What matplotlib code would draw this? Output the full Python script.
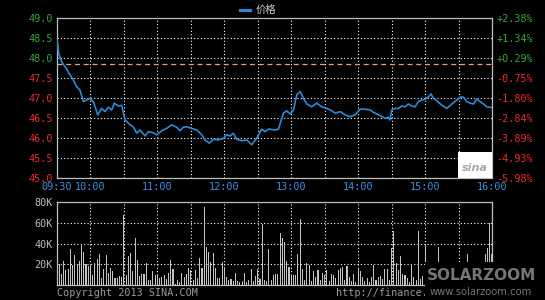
import numpy as np
import matplotlib
matplotlib.use("Agg")
import matplotlib.pyplot as plt
from matplotlib.patches import Rectangle

# price line, minutes after 09:30 and price
price_t = [0, 1.5, 4, 8, 11.7, 14.6, 17.7, 20.6, 23.6, 29.6, 32.6, 36.5, 40, 43, 46, 49,
           51.4, 55, 58, 61, 65.5, 68.4, 71.5, 74.4, 79, 82, 86.4, 89.4, 93.9, 98.3,
           102.8, 107.3, 110.3, 113.3, 116.3, 120.8, 125.3, 129.8, 132.7, 136.6, 140.2,
           144.7, 149.2, 152.2, 155.2, 158.1, 161.1, 165.6, 170.1, 174.6, 179, 183.5,
           186.5, 189.5, 191, 195.5, 198.5, 203, 206, 209, 212, 215, 218, 221, 224,
           228.4, 232.9, 237.4, 241.9, 246.4, 249.3, 253.8, 258.3, 262.8, 267.3, 271.7,
           276.2, 280.7, 283.7, 288.2, 294.2, 297.1, 298.6, 300.1, 303.1, 306.1, 309,
           312, 315, 318, 321, 324, 327, 330, 333, 335.4, 337.5, 340.5, 345, 349.5, 354,
           358.5, 362, 364.4, 367.4, 370.4, 373.4, 376.4, 379.4, 382.3, 385.3, 388.3, 390]
price_v = [48.45, 48.12, 47.91, 47.75, 47.58, 47.45, 47.28, 47.20, 46.91, 46.99, 46.91,
           46.58, 46.74, 46.66, 46.77, 46.70, 46.87, 46.80, 46.82, 46.45, 46.33, 46.28,
           46.12, 46.20, 46.05, 46.16, 46.13, 46.08, 46.18, 46.24, 46.33, 46.27, 46.18,
           46.27, 46.28, 46.24, 46.20, 46.08, 45.95, 45.87, 45.97, 45.95, 45.99, 46.08,
           46.05, 46.12, 45.97, 45.93, 45.95, 45.83, 45.99, 46.22, 46.16, 46.22, 46.22,
           46.20, 46.22, 46.62, 46.68, 46.60, 46.70, 47.08, 47.16, 46.99, 46.85, 46.78,
           46.87, 46.78, 46.74, 46.68, 46.62, 46.66, 46.58, 46.53, 46.58, 46.72, 46.72,
           46.70, 46.64, 46.58, 46.49, 46.52, 46.45, 46.70, 46.74, 46.74, 46.80, 46.78,
           46.85, 46.80, 46.78, 46.91, 46.95, 46.97, 47.03, 47.10, 46.99, 46.93, 46.82,
           46.74, 46.85, 46.95, 47.03, 47.02, 46.91, 46.87, 46.85, 46.97, 46.91, 46.85,
           46.78, 46.77, 46.76]
prev_close = 47.86

# volume in thousands, one bar every 2 minutes
volume_k = [29.6, 20, 11, 23, 14.5, 15.4, 34.7, 19.3, 29, 20, 23, 40, 31.5, 20, 18.6,
            18.6, 10, 21, 25, 29.6, 6.4, 15.4, 29, 12, 16.7, 13.5, 7, 7, 9, 8,
            67.5, 9.6, 28, 30.5, 13.5, 45.7, 24, 9, 11, 11, 21, 4.8, 4.8, 13.5, 9.6,
            10, 6.4, 8, 9.6, 5.8, 12, 24, 15.4, 0.6, 4.8, 2.6, 12, 8, 11, 16.7,
            14.5, 4.8, 14.5, 7, 26.4, 16, 75.5, 37, 32, 22.5, 30.5, 16.7, 7, 6.4, 22.5,
            17.7, 8, 4.8, 5.8, 3.9, 12, 3.9, 2.6, 3.9, 12, 2.6, 4.8, 15.4, 3.9, 9,
            15.4, 5.8, 58.5, 4.8, 3.9, 34.7, 4.8, 10,
            11, 11, 50, 45.7, 41.8, 23, 17.7, 9.6, 10, 9.6, 29.6, 63.7, 15.4, 4.8, 21,
            19.3, 3.9, 13.5, 8, 14.5, 4.8, 12, 10, 14.5, 3.9, 11, 9.6, 6.4, 14.5, 16.7,
            17.7, 4.8, 18.6, 8, 3.9, 11, 2.6, 16.7, 13.5, 8, 3.9, 6.4, 2.6, 8, 19.3,
            4.8, 8, 9, 5.8, 15.4, 15.4, 4.8, 35.4, 52, 21, 14.5, 28, 11, 10, 7,
            2.6, 20, 8, 4.8, 52,
            6, 9, 38.6, 10, 8, 12, 7, 9, 37, 6, 22.5, 8, 5, 10, 7, 12, 6, 9, 11, 7,
            8, 29.6, 10, 22.5, 9, 20, 21, 18.6, 12, 29.6, 35.4, 59.5, 30]

time_ticks = [0, 30, 90, 150, 210, 270, 330, 390]
time_labels = ["09:30", "10:00", "11:00", "12:00", "13:00", "14:00", "15:00", "16:00"]
price_ticks = [45.0, 45.5, 46.0, 46.5, 47.0, 47.5, 48.0, 48.5, 49.0]
vol_ticks = [20, 40, 60, 80]

GREEN = "#3aa53a"
RED = "#ee2a2a"
BLUE = "#3b8fe0"
GRAY = "#bdbdbd"
MONO = "DejaVu Sans Mono"

fig = plt.figure(figsize=(5.45, 3.0), dpi=100, facecolor="black")

def style_axes(ax):
    ax.set_facecolor("black")
    for s in ax.spines.values():
        s.set_color(GRAY)
        s.set_linewidth(0.9)
    ax.tick_params(length=0)
    ax.set_xlim(0, 390)
    ax.set_xticks(np.arange(0, 391, 30), minor=False)
    ax.grid(True, color="white", linestyle=(0, (1, 2)), linewidth=0.8)

# ===== price panel =====
ax = fig.add_axes([57 / 545, 1 - 178 / 300, 435 / 545, 160 / 300])
style_axes(ax)
ax.set_ylim(45, 49)
ax.set_yticks(price_ticks)
ax.set_yticklabels([f"{p:.1f}" for p in price_ticks], family=MONO, fontsize=7.3)
for lab, p in zip(ax.get_yticklabels(), price_ticks):
    lab.set_color(GREEN if p >= prev_close else RED)
ax.tick_params(axis="y", pad=3)
ax.set_xticks(time_ticks)
ax.set_xticks(np.arange(0, 391, 30), minor=True)
ax.set_xticklabels(time_labels, family=MONO, fontsize=7.3, color=BLUE)
ax.tick_params(axis="x", pad=3)
ax.grid(True, which="minor", axis="x", color="white", linestyle=(0, (1, 2)), linewidth=0.8)
ax.tick_params(which="minor", length=0)

ax.axhline(prev_close, color="#e8a07c", linestyle=(0, (4, 3)), linewidth=0.9, zorder=2)
ax.plot(price_t, price_v, color="#2b8ad6", linewidth=1.2, zorder=3)

ax2 = ax.twinx()
ax2.set_ylim(45, 49)
ax2.set_yticks(price_ticks)
ax2.set_yticklabels([f"{(p / prev_close - 1) * 100:+.2f}%" for p in price_ticks],
                    family=MONO, fontsize=7.3)
for lab, p in zip(ax2.get_yticklabels(), price_ticks):
    lab.set_color(GREEN if p >= prev_close else RED)
ax2.tick_params(length=0, pad=3)
for s in ax2.spines.values():
    s.set_visible(False)

# sina logo box
ax.add_patch(Rectangle((0.922, 0.0), 0.078, 0.16, transform=ax.transAxes,
                       facecolor="white", edgecolor="none", zorder=4))
ax.text(0.961, 0.06, "sina", transform=ax.transAxes, ha="center", va="center",
        fontsize=8, style="italic", fontweight="bold", color="#a8a8a8", zorder=5)

# legend
fig.add_artist(plt.Line2D([240 / 545, 250 / 545], [1 - 10 / 300] * 2,
                          color="#2b8ad6", linewidth=2.2, transform=fig.transFigure))
fig.text(256 / 545, 1 - 10 / 300, "价格", family=["Noto Sans CJK SC", "DejaVu Sans"],
         fontsize=7.5, color="#d0d0d0", va="center", ha="left")

# ===== volume panel =====
axv = fig.add_axes([57 / 545, 1 - 285 / 300, 435 / 545, 83 / 300])
style_axes(axv)
axv.set_ylim(0, 80)
vol_t = np.arange(len(volume_k)) * 2
axv.bar(vol_t, volume_k, width=0.9, color="#c4c4c4", linewidth=0, zorder=2)
axv.set_yticks(vol_ticks)
axv.set_yticklabels([f"{v}K" for v in vol_ticks], family=MONO, fontsize=7.3, color=GRAY)
axv.tick_params(axis="y", pad=3)
axv.set_xticklabels([])

fig.text(57 / 545, 1 - 293 / 300, "Copyright 2013 SINA.COM", family=MONO,
         fontsize=7.3, color="#9a9a9a", va="center", ha="left")
fig.text(336 / 545, 1 - 293 / 300, "http://finance.", family=MONO,
         fontsize=7.3, color="#9a9a9a", va="center", ha="left")

# watermark
fig.add_artist(Rectangle((425 / 545, 0), 120 / 545, 38 / 300, transform=fig.transFigure,
                         facecolor="black", edgecolor="none", zorder=5))
fig.text(481 / 545, 1 - 276 / 300, "SOLARZOOM", fontsize=11, fontweight="bold",
         color="#767676", ha="center", va="center", zorder=6)
fig.text(481 / 545, 1 - 292 / 300, "www.solarzoom.com", fontsize=7.2,
         color="#767676", ha="center", va="center", zorder=6)

plt.savefig("out.png", dpi=100, facecolor="black")
